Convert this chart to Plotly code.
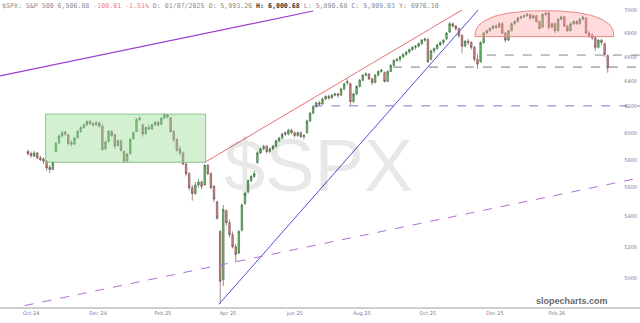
import math
import plotly.graph_objects as go

# ---------------- data (bar index = one bar per ~2 trading days) ----------------
opens = [5860,5845,5825,5850,5815,5805,5790,5745,5730,5860,
         5925,5975,6005,5985,5925,5915,5965,6010,6040,6060,
         6085,6070,6060,6075,6050,5880,5935,6010,5985,5905,
         5940,5860,5790,5845,5955,6010,6100,6060,5995,6040,
         6030,6060,6080,6065,6110,6140,6115,6010,5950,5880,
         5850,5770,5700,5600,5560,5620,5640,5620,5760,5700,
         5610,5500,5300,4990,5440,5360,5280,5200,5160,5310,
         5490,5570,5650,5680,5780,5850,5880,5900,5860,5880,
         5900,5940,5960,6000,5990,6020,6000,5980,6000,5970,
         6000,6090,6150,6200,6230,6220,6260,6280,6270,6290,
         6300,6290,6340,6400,6380,6240,6300,6360,6410,6450,
         6460,6420,6390,6450,6480,6470,6400,6480,6530,6570,
         6580,6600,6620,6640,6660,6680,6690,6710,6740,6745,
         6580,6650,6670,6700,6720,6750,6810,6880,6860,6840,
         6780,6690,6730,6720,6680,6580,6560,6720,6800,6820,
         6840,6860,6850,6880,6800,6740,6820,6880,6900,6930,
         6940,6950,6960,6930,6950,6900,6850,6960,6975,6850,
         6880,6820,6920,6940,6860,6820,6880,6900,6880,6920,
         6930,6800,6780,6760,6680,6740,6710,6610]
highs = [5875,5860,5865,5858,5830,5820,5795,5760,5790,5930,
         5985,6015,6015,5990,5945,5970,6020,6050,6070,6095,
         6095,6080,6090,6085,6070,5940,6020,6020,5990,5950,
         5945,5870,5850,5960,6010,6110,6125,6070,6050,6065,
         6070,6090,6090,6120,6150,6145,6120,6020,5960,5900,
         5860,5780,5710,5620,5640,5660,5650,5770,5770,5710,
         5620,5510,5310,5480,5450,5380,5300,5220,5310,5490,
         5570,5660,5690,5720,5860,5890,5910,5905,5890,5910,
         5950,5970,6000,6010,6030,6030,6010,6010,6010,5990,
         6100,6160,6210,6240,6245,6270,6290,6295,6300,6310,
         6310,6350,6390,6420,6390,6310,6370,6420,6460,6475,
         6465,6430,6460,6490,6500,6480,6490,6540,6580,6590,
         6610,6630,6650,6670,6690,6700,6720,6750,6760,6755,
         6660,6680,6710,6730,6750,6810,6895,6890,6870,6845,
         6790,6740,6750,6730,6690,6620,6730,6810,6830,6850,
         6870,6875,6895,6890,6810,6830,6890,6910,6940,6950,
         6960,6975,6965,6960,6955,6910,6970,6985,6985,6890,
         6890,6930,6950,6945,6870,6890,6910,6910,6930,6950,
         6935,6820,6800,6770,6750,6750,6720,6620]
lows = [5830,5815,5820,5805,5790,5770,5720,5705,5725,5855,
        5915,5965,5975,5905,5900,5910,5955,6000,6030,6050,
        6060,6045,6055,6040,5865,5870,5925,5970,5880,5895,
        5860,5775,5780,5840,5945,6005,6090,5970,5985,6020,
        6020,6050,6045,6060,6105,6110,6000,5930,5860,5830,
        5760,5680,5580,5510,5550,5600,5590,5615,5690,5590,
        5500,5380,4840,4950,5340,5260,5190,5100,5150,5300,
        5480,5560,5640,5670,5770,5840,5870,5845,5850,5870,
        5890,5930,5950,5975,5980,5990,5965,5970,5960,5950,
        5995,6085,6140,6190,6205,6215,6250,6255,6260,6280,
        6270,6285,6330,6370,6210,6230,6290,6350,6400,6440,
        6410,6370,6385,6440,6470,6390,6395,6475,6525,6560,
        6560,6590,6610,6630,6650,6660,6680,6700,6725,6550,
        6570,6630,6660,6690,6700,6740,6800,6850,6820,6760,
        6630,6680,6700,6660,6560,6500,6550,6710,6790,6810,
        6830,6835,6845,6790,6720,6735,6815,6870,6890,6920,
        6930,6940,6910,6920,6890,6830,6845,6950,6830,6840,
        6800,6815,6910,6850,6810,6815,6870,6870,6875,6910,
        6790,6760,6740,6650,6670,6700,6600,6470]
closes = [5845,5830,5850,5815,5800,5790,5740,5730,5780,5920,
          5975,6000,5990,5920,5915,5960,6010,6040,6060,6085,
          6070,6060,6075,6050,5875,5930,6010,5980,5900,5940,
          5870,5790,5840,5950,6000,6100,6110,5990,6040,6030,
          6060,6080,6060,6110,6140,6120,6010,5950,5870,5850,
          5770,5700,5600,5560,5620,5640,5610,5760,5700,5600,
          5520,5390,4980,5450,5360,5280,5200,5150,5300,5480,
          5560,5650,5680,5700,5850,5880,5900,5860,5880,5900,
          5940,5960,5990,5990,6020,6000,5980,6000,5970,5980,
          6090,6150,6200,6230,6220,6260,6280,6270,6290,6300,
          6290,6340,6380,6390,6240,6300,6360,6410,6450,6460,
          6420,6390,6450,6480,6490,6400,6480,6530,6570,6580,
          6600,6620,6640,6660,6680,6690,6710,6740,6750,6560,
          6650,6670,6700,6720,6740,6800,6880,6860,6840,6780,
          6690,6730,6720,6680,6580,6540,6720,6800,6820,6840,
          6860,6850,6880,6800,6740,6820,6880,6900,6930,6940,
          6950,6960,6930,6950,6900,6840,6960,6970,6850,6880,
          6820,6920,6940,6860,6820,6880,6900,6880,6920,6940,
          6800,6780,6760,6680,6740,6720,6620,6510]

month_labels = ["Oct 24", "Dec 24", "Feb 25", "Apr 25", "Jun 25",
                "Aug 25", "Oct 25", "Dec 25", "Feb 26"]
month_pos = [1.0, 22.6, 43.5, 64.5, 86.1, 107.7, 129.0, 150.6, 170.6]
price_ticks = [5000, 5200, 5400, 5600, 5800, 6000, 6200, 6400, 6600, 6800, 7000]

# drawn annotations (bar index, price)
purple_x, purple_p = [-9.0, 92.0], [6445, 6991]
red_x, red_p = [57.1, 140.0], [5782, 7000]
blue_x, blue_p = [61.6, 145.2], [4838, 7000]
diag_x, diag_p = [-1.0, 197.4], [4830, 5670]
hlines = [(92.0, 6206, "#7c7cc8"), (117.7, 6516, "#777777"), (148.0, 6615, "#888888")]
box_x, box_p = [5.7, 57.3], [5782, 6142]
dome_x, dome_p = [144.2, 189.0], [6770, 6994]

X_MIN, X_MAX = -9.03, 197.42
Y_RANGE = [3.68316, 3.85055]

bars = list(range(len(closes)))

fig = go.Figure()

# green box
fig.add_trace(go.Scatter(
    x=[box_x[0], box_x[1], box_x[1], box_x[0], box_x[0]],
    y=[box_p[0], box_p[0], box_p[1], box_p[1], box_p[0]],
    mode="lines", fill="toself", fillcolor="rgba(150,220,150,0.42)",
    line=dict(color="#86c886", width=1), hoverinfo="skip"))

# red dome (half ellipse in log space)
cx = (dome_x[0] + dome_x[1]) / 2
ax_ = (dome_x[1] - dome_x[0]) / 2
lb = math.log10(dome_p[0])
bh = math.log10(dome_p[1]) - lb
dxs, dys = [], []
for k in range(61):
    t = math.pi * k / 60
    c = math.cos(t)
    s = math.sin(t)
    dxs.append(cx + ax_ * (abs(c) ** 0.85) * (1 if c >= 0 else -1))
    dys.append(10 ** (lb + bh * (s ** 0.8)))
dxs.append(dxs[0]); dys.append(dys[0])
fig.add_trace(go.Scatter(x=dxs, y=dys, mode="lines", fill="toself",
                         fillcolor="rgba(255,160,160,0.38)",
                         line=dict(color="#e88888", width=1), hoverinfo="skip"))

# candles
fig.add_trace(go.Candlestick(
    x=bars, open=opens, high=highs, low=lows, close=closes,
    increasing=dict(fillcolor="#6fc86f", line=dict(color="#2f5f2f", width=0.6)),
    decreasing=dict(fillcolor="#d69292", line=dict(color="#6a3a3a", width=0.6)),
    whiskerwidth=0, hoverinfo="skip"))

# trend lines
fig.add_trace(go.Scatter(x=purple_x, y=purple_p, mode="lines",
                         line=dict(color="#9b3fd0", width=1.2), hoverinfo="skip"))
fig.add_trace(go.Scatter(x=red_x, y=red_p, mode="lines",
                         line=dict(color="#e87070", width=1), hoverinfo="skip"))
fig.add_trace(go.Scatter(x=blue_x, y=blue_p, mode="lines",
                         line=dict(color="#5050d8", width=1), hoverinfo="skip"))
fig.add_trace(go.Scatter(x=diag_x, y=diag_p, mode="lines",
                         line=dict(color="#b070d0", width=1, dash="dash"), hoverinfo="skip"))
for x0, p, col in hlines:
    fig.add_trace(go.Scatter(x=[x0, X_MAX], y=[p, p], mode="lines",
                             line=dict(color=col, width=1, dash="dash"), hoverinfo="skip"))

header = ("<span style='color:#8a8a8a'>$SPX: S&amp;P 500 6,506.88 </span>"
          "<span style='color:#f08080'>-100.01 -1.51% </span>"
          "<span style='color:#8a8a8a'>D: 01/07/2025 O: 5,993.26 </span>"
          "<span style='color:#333'><b>H: 6,000.68</b></span>"
          "<span style='color:#8a8a8a'> L: 5,890.68 C: 5,909.03 Y: 6976.10</span>")

fig.update_layout(
    width=640, height=323,
    margin=dict(l=0, r=0, t=0, b=16),
    paper_bgcolor="white", plot_bgcolor="white",
    showlegend=False,
    xaxis=dict(range=[X_MIN, X_MAX], showgrid=False, zeroline=False,
               showline=True, linecolor="#cfcfcf", linewidth=2,
               tickvals=month_pos, ticktext=month_labels, ticks="",
               tickfont=dict(size=5, color="#7a7a9a", family="DejaVu Sans"),
               rangeslider=dict(visible=False)),
    yaxis=dict(type="log", range=Y_RANGE, side="right",
               ticklabelposition="inside", tickvals=price_ticks,
               ticktext=[str(v) for v in price_ticks],
               showgrid=False, zeroline=False, showline=False, ticks="",
               tickfont=dict(size=5, color="#7a7a9a", family="DejaVu Sans")),
    annotations=[
        dict(text="$SPX", xref="paper", yref="paper", x=0.497, y=0.46,
             xanchor="center", yanchor="middle", showarrow=False,
             font=dict(size=74, color="rgba(0,0,0,0.09)", family="Liberation Sans")),
        dict(text="<b>slopecharts.com</b>", xref="paper", yref="paper",
             x=0.953, y=0.02, xanchor="right", yanchor="middle", showarrow=False,
             font=dict(size=9, color="#6a6a6a", family="Liberation Sans")),
        dict(text=header, xref="paper", yref="paper", x=0.0, y=1.0,
             xanchor="left", yanchor="top", showarrow=False,
             font=dict(size=6.6, family="DejaVu Sans Mono", color="#8a8a8a")),
    ],
)

fig.write_html("out.html")
